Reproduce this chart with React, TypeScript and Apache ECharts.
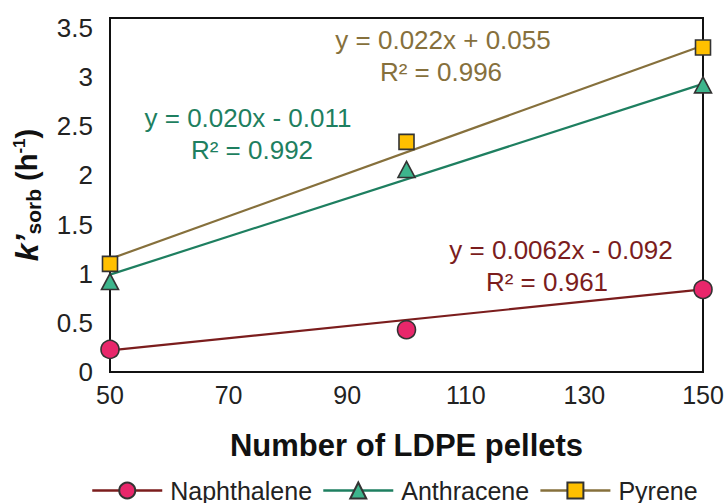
import React, { useEffect, useRef } from "react";
import * as echarts from "echarts";

// Data
const xTicks = [50, 70, 90, 110, 130, 150];
const pellets = [50, 100, 150];
const naphthalene = [0.23, 0.43, 0.84];
const anthracene = [0.92, 2.06, 2.92];
const pyrene = [1.1, 2.34, 3.3];

// Trendline end values (x = 50 and x = 150)
const trendX = [50, 150];
const naphTrend = [0.22, 0.84];
const anthTrend = [0.99, 2.93];
const pyrTrend = [1.15, 3.32];

const naphEq = ["y = 0.0062x - 0.092", "R² = 0.961"];
const anthEq = ["y = 0.020x - 0.011", "R² = 0.992"];
const pyrEq = ["y = 0.022x + 0.055", "R² = 0.996"];

const FONT = "'Liberation Sans', Arial, sans-serif";
const C = {
  naphLine: "#7B1D1D",
  naphFill: "#E8276B",
  anthLine: "#1E7F60",
  anthFill: "#3DB58C",
  pyrLine: "#86703C",
  pyrFill: "#FFC000",
  edge: "#333333",
};

export default function App() {
  const ref = useRef<HTMLDivElement>(null);
  useEffect(() => {
    document.body.style.margin = "0";
    if (!ref.current) return;
    const chart = echarts.init(ref.current, undefined, { renderer: "svg" });
    const zip = (xs: number[], ys: number[]) => xs.map((x, i) => [x, ys[i]]);
    const eqText = (lines: string[], xs: number[], ys: number[], color: string) =>
      lines.map((t, i) => ({
        type: "text",
        x: xs[i],
        y: ys[i],
        style: {
          text: t,
          fill: color,
          font: `26px ${FONT}`,
          textAlign: "center",
          textVerticalAlign: "middle",
        },
      }));
    const pointSeries = (name: string, ys: number[], symbol: string, size: any, fill: string) => ({
      name,
      type: "line",
      data: zip(pellets, ys),
      symbol,
      symbolSize: size,
      showSymbol: true,
      clip: false,
      z: 5,
      lineStyle: { width: 0, opacity: 0 },
      itemStyle: { color: fill, borderColor: C.edge, borderWidth: 1.6, opacity: 1 },
    });
    const trendSeries = (name: string, ys: number[], color: string) => ({
      name,
      type: "line",
      data: zip(trendX, ys),
      showSymbol: false,
      symbol: "none",
      clip: false,
      z: 3,
      silent: true,
      lineStyle: { color, width: 2.2 },
    });
    chart.setOption({
      animation: false,
      backgroundColor: "#ffffff",
      textStyle: { fontFamily: FONT },
      grid: {
        left: 110,
        right: 24,
        top: 18,
        bottom: 131,
        outerBoundsMode: "none",
        containLabel: false,
        show: true,
        borderColor: "#111",
        borderWidth: 2,
        backgroundColor: "transparent",
      },
      xAxis: {
        type: "value",
        min: 50,
        max: 150,
        interval: 20,
        name: "Number of LDPE pellets",
        nameLocation: "middle",
        nameGap: 58,
        nameTextStyle: { fontSize: 31, fontWeight: "bold", color: "#111", fontFamily: FONT },
        axisLine: { show: true, lineStyle: { color: "#111", width: 2 } },
        axisTick: { show: false },
        splitLine: { show: false },
        axisLabel: {
          fontSize: 25,
          color: "#222",
          margin: 10,
          fontFamily: FONT,
          formatter: (v: number) => (xTicks.includes(v) ? String(v) : ""),
        },
      },
      yAxis: {
        type: "value",
        min: 0,
        max: 3.6,
        interval: 0.5,
        name: "{k|k’}{sub|sorb}{b| (h}{sup|-1}{b|)}",
        nameLocation: "middle",
        nameRotate: 90,
        nameGap: 66,
        nameTextStyle: {
          fontFamily: FONT,
          color: "#111",
          rich: {
            k: { fontSize: 32, fontWeight: "bold", fontStyle: "italic", fontFamily: FONT, color: "#111" },
            sub: { fontSize: 21, fontWeight: "bold", fontFamily: FONT, color: "#111", padding: [14, 0, 0, 0] },
            b: { fontSize: 29, fontWeight: "bold", fontFamily: FONT, color: "#111" },
            sup: { fontSize: 17, fontWeight: "bold", fontFamily: FONT, color: "#111", padding: [0, 0, 14, 0] },
          },
        },
        axisLine: { show: true, lineStyle: { color: "#111", width: 2 } },
        axisTick: { show: false },
        splitLine: { show: false },
        axisLabel: {
          fontSize: 26,
          color: "#222",
          margin: 17,
          fontFamily: FONT,
          formatter: (v: number) => {
            const r = Math.round(v * 10) / 10;
            return Math.abs(r * 2 - Math.round(r * 2)) < 1e-6 && r <= 3.5 ? String(r) : "";
          },
        },
      },
      legend: {
        left: 86,
        top: 473,
        itemWidth: 70,
        itemHeight: 20,
        itemGap: 10,
        textStyle: { fontSize: 25, lineHeight: 25, color: "#222", fontFamily: FONT, padding: [0, 0, 0, 3] },
        data: [
          { name: "Naphthalene", lineStyle: { color: C.naphLine, width: 2.5, opacity: 1 } },
          { name: "Anthracene", lineStyle: { color: C.anthLine, width: 2.5, opacity: 1 } },
          { name: "Pyrene", lineStyle: { color: C.pyrLine, width: 2.5, opacity: 1 } },
        ],
      },
      series: [
        trendSeries("naphTrend", naphTrend, C.naphLine),
        trendSeries("anthTrend", anthTrend, C.anthLine),
        trendSeries("pyrTrend", pyrTrend, C.pyrLine),
        pointSeries("Naphthalene", naphthalene, "circle", 18, C.naphFill),
        pointSeries("Anthracene", anthracene, "triangle", [17, 16], C.anthFill),
        pointSeries("Pyrene", pyrene, "rect", 15, C.pyrFill),
      ],
      graphic: [
        ...eqText(pyrEq, [443, 441], [40, 72], C.pyrLine),
        ...eqText(anthEq, [248, 252], [118, 150], C.anthLine),
        ...eqText(naphEq, [561, 547], [250, 282], C.naphLine),
      ],
    });
    return () => chart.dispose();
  }, []);
  return <div ref={ref} style={{ width: 727, height: 503 }} />;
}
